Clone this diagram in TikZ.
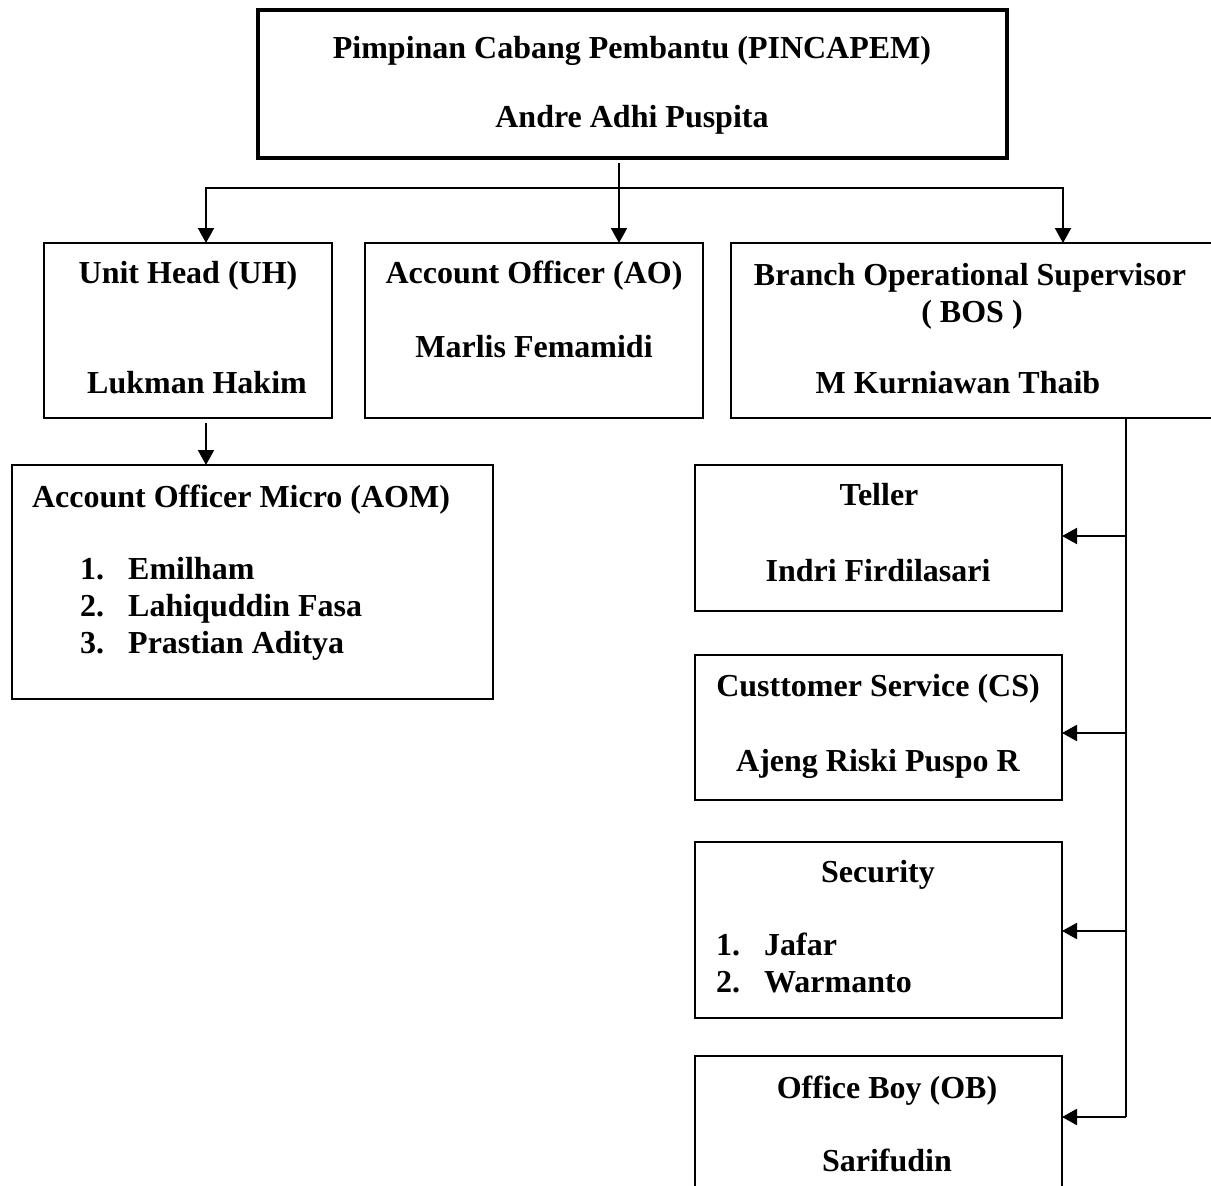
\documentclass[tikz,border=0pt]{standalone}
\usepackage{fontspec}
\setmainfont{Liberation Serif}
\usetikzlibrary{arrows.meta}

\begin{document}
\begin{tikzpicture}[
  x=1pt, y=-1pt,
  >={Triangle[length=15pt,width=16pt]},
  every node/.style={font=\bfseries\fontsize{32}{37}\selectfont},
  unit/.style={draw, line width=2.4pt, inner sep=0pt, outer sep=0pt},
  txt/.style={inner sep=0pt, text height=21pt, text depth=0pt},
  link/.style={line width=2pt}
]
  \useasboundingbox (0,0) rectangle (1211,1186);
  \clip (0,0) rectangle (1211,1186);

  % boxes
  \node[unit, line width=4.5pt, minimum width=749pt, minimum height=148pt] (pin) at (632.5,84) {};
  \node[unit, minimum width=288pt, minimum height=175pt] (uh) at (188,330.5) {};
  \node[unit, minimum width=338pt, minimum height=175pt] (ao) at (534,330.5) {};
  \node[unit, minimum width=483pt, minimum height=175pt] (bos) at (972.5,330.5) {};
  \node[unit, minimum width=481pt, minimum height=234pt] (aom) at (252.5,582) {};
  \node[unit, minimum width=367pt, minimum height=146pt] (tel) at (878.5,538) {};
  \node[unit, minimum width=367pt, minimum height=145pt] (cs) at (878.5,727.5) {};
  \node[unit, minimum width=367pt, minimum height=176pt] (sec) at (878.5,930) {};
  \node[unit, minimum width=367pt, minimum height=144pt] (ob) at (878.5,1128) {};

  % texts
  \node[txt] (pinT) at (632,48) {Pimpinan Cabang Pembantu (PINCAPEM)};
  \node[txt] (pinN) at (632,117) {Andre Adhi Puspita};
  \node[txt] (uhT) at (188,273) {Unit Head (UH)};
  \node[txt] (uhN) at (197,383) {Lukman Hakim};
  \node[txt] (aoT) at (534,273) {Account Officer (AO)};
  \node[txt] (aoN) at (534,347) {Marlis Femamidi};
  \node[txt] (bosT) at (970,275) {Branch Operational Supervisor};
  \node[txt] (bosA) at (972,312) {( BOS )};
  \node[txt] (bosN) at (958,383) {M Kurniawan Thaib};
  \node[txt] (aomT) at (241,497) {Account Officer Micro (AOM)};
  \node[txt, anchor=west] (aom1) at (80,569) {\makebox[48pt][l]{1.}Emilham};
  \node[txt, anchor=west] (aom2) at (80,606) {\makebox[48pt][l]{2.}Lahiquddin Fasa};
  \node[txt, anchor=west] (aom3) at (80,643) {\makebox[48pt][l]{3.}Prastian Aditya};
  \node[txt] (telT) at (879,495) {Teller};
  \node[txt] (telN) at (878,571) {Indri Firdilasari};
  \node[txt] (csT) at (878,686) {Custtomer Service (CS)};
  \node[txt] (csN) at (878,761) {Ajeng Riski Puspo R};
  \node[txt] (secT) at (878,872) {Security};
  \node[txt, anchor=west] (sec1) at (716,945) {\makebox[48pt][l]{1.}Jafar};
  \node[txt, anchor=west] (sec2) at (716,982) {\makebox[48pt][l]{2.}Warmanto};
  \node[txt] (obT) at (887,1088) {Office Boy (OB)};
  \node[txt] (obN) at (887,1161) {Sarifudin};

  % connectors
  \coordinate (jA) at (619,163);
  \coordinate (hL) at (206,188);
  \coordinate (hR) at (1063,188);
  \coordinate (jU) at (206,423);
  \coordinate (kT) at (1126,536);
  \coordinate (kC) at (1126,733);
  \coordinate (kS) at (1126,931);
  \coordinate (kO) at (1126,1117);

  \draw[link,->] (jA) -- (jA |- ao.north);
  \draw[link,<->] (hL |- uh.north) -- (hL) -- (hR) -- (hR |- bos.north);
  \draw[link,->] (jU) -- (jU |- aom.north);
  \draw[link] (kO |- bos.south) -- (kO);
  \foreach \k/\n in {kT/tel,kC/cs,kS/sec,kO/ob}
    \draw[link,->] (\k) -- (\k -| \n.east);
\end{tikzpicture}
\end{document}
